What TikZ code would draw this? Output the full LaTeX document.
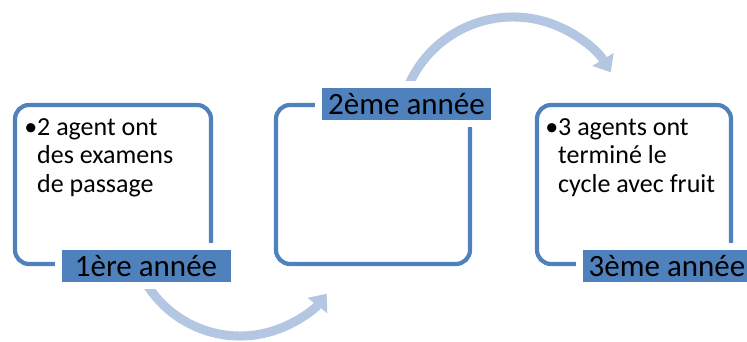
\documentclass[tikz,border=0pt]{standalone}
\usepackage{fontspec}
\setmainfont{Carlito}
\usetikzlibrary{arrows.meta}
\definecolor{boxblue}{HTML}{4F81BD}
\definecolor{arrowblue}{HTML}{B3C6E2}
\tikzset{
  yearbox/.style={draw=boxblue, line width=4.2pt, rounded corners=14pt},
  yearlabel/.style={fill=boxblue, text=black, inner sep=0pt,
    minimum width=169pt, minimum height=32pt,
    font=\fontsize{31}{34}\selectfont,
    preaction={draw=white, line width=14pt}},
  bodytext/.style={anchor=north west, inner sep=0pt, align=left,
    font=\fontsize{26}{28.5}\selectfont},
  cyclearrow/.style={draw=arrowblue, line width=9pt,
    -{Triangle[width=24pt,length=15pt]}}
}
\begin{document}
\begin{tikzpicture}[x=1pt,y=1pt]
\useasboundingbox (0,0) rectangle (747,342);

% curved arrows between the years
\coordinate (c1) at (240,116);
\coordinate (c2) at (513,211);
\path[cyclearrow] ([shift={(200:110pt)}]c1) arc[start angle=200, end angle=322, radius=110pt];
\path[cyclearrow] ([shift={(160:114pt)}]c2) arc[start angle=160, end angle=31, radius=114pt];

% year frames
\draw[yearbox] (15,78) rectangle (211,237);
\draw[yearbox] (276,78) rectangle (470,237);
\draw[yearbox] (537,78) rectangle (731,237);

% frame contents
\node[bodytext] (t1) at (37,227) {\rule{0pt}{20pt}\llap{•}2 agent ont\\des examens\\de passage};
\node[bodytext] (t3) at (558,227) {\rule{0pt}{20pt}\llap{•}3 agents ont\\terminé le\\cycle avec fruit};

% year labels
\node[yearlabel] (y1) at (146,76) {1ère année};
\node[yearlabel] (y2) at (406.5,238) {2ème année};
\node[yearlabel] (y3) at (667,76) {3ème année};
\end{tikzpicture}
\end{document}
